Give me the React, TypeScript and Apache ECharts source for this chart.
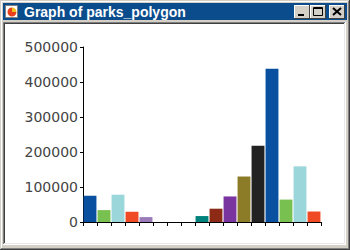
import React, { useEffect, useRef } from "react";
import * as echarts from "echarts";

const categories = ["1", "2", "3", "4", "5", "6", "7", "8", "9", "10", "11", "12", "13", "14", "15", "16", "17"];
const values = [75000, 34000, 78000, 29000, 14000, 0, 0, 0, 17000, 38000, 73000, 130000, 218000, 438000, 64000, 159000, 30000];
const barColors = ["#0a50a0", "#78c050", "#9ad6da", "#f04a24", "#9a7ab8", "#888888", "#888888", "#888888", "#00827c", "#8c2a16", "#7a34a0", "#8c7c28", "#222222", "#0a50a0", "#78c050", "#9ad6da", "#f04a24"];
const yTicks = { min: 0, max: 500000, interval: 100000 };
const title = "Graph of parks_polygon";

const GRAY = "#d4d0c8";

export default function App() {
  const ref = useRef<HTMLDivElement>(null);
  useEffect(() => {
    const chart = echarts.init(ref.current!, undefined, { renderer: "svg" });
    const btn = (x: number) => [
      { type: "rect", shape: { x, y: 5, width: 16, height: 14 }, style: { fill: GRAY }, z: 10 },
      { type: "line", shape: { x1: x, y1: 5.5, x2: x + 16, y2: 5.5 }, style: { stroke: "#ffffff", lineWidth: 1 }, z: 11 },
      { type: "line", shape: { x1: x + 0.5, y1: 5, x2: x + 0.5, y2: 19 }, style: { stroke: "#ffffff", lineWidth: 1 }, z: 11 },
      { type: "line", shape: { x1: x, y1: 18.5, x2: x + 16, y2: 18.5 }, style: { stroke: "#404040", lineWidth: 1 }, z: 11 },
      { type: "line", shape: { x1: x + 15.5, y1: 5, x2: x + 15.5, y2: 19 }, style: { stroke: "#404040", lineWidth: 1 }, z: 11 },
    ];
    const option: any = {
      animation: false,
      backgroundColor: "#ffffff",
      grid: { left: 83, right: 29, top: 47, bottom: 28, containLabel: false },
      xAxis: {
        type: "category",
        data: categories,
        boundaryGap: true,
        axisLine: { show: true, lineStyle: { color: "#000000", width: 1 } },
        axisTick: { show: true, length: 4, interval: 0, lineStyle: { color: "#000000" } },
        axisLabel: { show: false },
        splitLine: { show: false },
      },
      yAxis: {
        type: "value",
        min: yTicks.min,
        max: yTicks.max,
        interval: yTicks.interval,
        axisLine: { show: true, lineStyle: { color: "#000000", width: 1 } },
        axisTick: { show: true, length: 3, lineStyle: { color: "#000000" } },
        axisLabel: { color: "#444444", fontSize: 14, fontFamily: "DejaVu Sans", margin: 5, formatter: (v: number) => String(v) },
        splitLine: { show: false },
      },
      series: [
        {
          type: "bar",
          data: values.map((v, i) => ({ value: v, itemStyle: { color: barColors[i] } })),
          barCategoryGap: "8%",
        },
      ],
      graphic: [
        { type: "rect", shape: { x: 0, y: 0, width: 350, height: 24 }, style: { fill: GRAY }, z: 5 },
        { type: "rect", shape: { x: 0, y: 24, width: 5, height: 226 }, style: { fill: GRAY }, z: 5 },
        { type: "rect", shape: { x: 344, y: 24, width: 6, height: 226 }, style: { fill: GRAY }, z: 5 },
        { type: "rect", shape: { x: 0, y: 243, width: 350, height: 7 }, style: { fill: GRAY }, z: 5 },
        { type: "line", shape: { x1: 1.5, y1: 1, x2: 1.5, y2: 248 }, style: { stroke: "#ffffff", lineWidth: 1 }, z: 6 },
        { type: "line", shape: { x1: 1, y1: 1.5, x2: 348, y2: 1.5 }, style: { stroke: "#ffffff", lineWidth: 1 }, z: 6 },
        { type: "line", shape: { x1: 348.5, y1: 1, x2: 348.5, y2: 249 }, style: { stroke: "#808080", lineWidth: 1 }, z: 6 },
        { type: "line", shape: { x1: 349.5, y1: 0, x2: 349.5, y2: 250 }, style: { stroke: "#404040", lineWidth: 1 }, z: 6 },
        { type: "line", shape: { x1: 1, y1: 248.5, x2: 349, y2: 248.5 }, style: { stroke: "#808080", lineWidth: 1 }, z: 6 },
        { type: "line", shape: { x1: 0, y1: 249.5, x2: 350, y2: 249.5 }, style: { stroke: "#404040", lineWidth: 1 }, z: 6 },
        { type: "line", shape: { x1: 3, y1: 22.5, x2: 345, y2: 22.5 }, style: { stroke: "#808080", lineWidth: 1 }, z: 6 },
        { type: "line", shape: { x1: 3.5, y1: 22, x2: 3.5, y2: 245 }, style: { stroke: "#808080", lineWidth: 1 }, z: 6 },
        { type: "line", shape: { x1: 4, y1: 23.5, x2: 344, y2: 23.5 }, style: { stroke: "#404040", lineWidth: 1 }, z: 6 },
        { type: "line", shape: { x1: 4.5, y1: 23, x2: 4.5, y2: 244 }, style: { stroke: "#404040", lineWidth: 1 }, z: 6 },
        { type: "line", shape: { x1: 4, y1: 243.5, x2: 345, y2: 243.5 }, style: { stroke: "#e8e8e8", lineWidth: 1 }, z: 6 },
        { type: "line", shape: { x1: 344.5, y1: 23, x2: 344.5, y2: 244 }, style: { stroke: "#e8e8e8", lineWidth: 1 }, z: 6 },
        { type: "line", shape: { x1: 3, y1: 244.5, x2: 346, y2: 244.5 }, style: { stroke: "#ffffff", lineWidth: 1 }, z: 6 },
        { type: "line", shape: { x1: 345.5, y1: 22, x2: 345.5, y2: 245 }, style: { stroke: "#ffffff", lineWidth: 1 }, z: 6 },
        { type: "rect", shape: { x: 3, y: 3, width: 344, height: 17 }, style: { fill: "#0b4c8c" }, z: 7 },
        { type: "rect", shape: { x: 5.5, y: 5.5, width: 12, height: 12 }, style: { fill: "#ffffff", stroke: "#808080", lineWidth: 1 }, z: 8 },
        { type: "sector", shape: { cx: 12, cy: 12, r: 4.5, startAngle: 0, endAngle: Math.PI * 1.5 }, style: { fill: "#e8401c" }, z: 9 },
        { type: "sector", shape: { cx: 12, cy: 12, r: 4.5, startAngle: Math.PI * 1.5, endAngle: Math.PI * 2 }, style: { fill: "#f0c020" }, z: 9 },
        {
          type: "text",
          x: 24,
          y: 11.5,
          style: { text: title, fill: "#ffffff", font: "bold 14px 'Liberation Sans', Arial, sans-serif", textVerticalAlign: "middle" },
          z: 9,
        },
        ...btn(294),
        ...btn(310),
        ...btn(329),
        { type: "rect", shape: { x: 298, y: 14, width: 6, height: 2 }, style: { fill: "#000000" }, z: 12 },
        { type: "rect", shape: { x: 313.5, y: 7.5, width: 9, height: 8 }, style: { fill: "none", stroke: "#000000", lineWidth: 1 }, z: 12 },
        { type: "line", shape: { x1: 313, y1: 8.5, x2: 323, y2: 8.5 }, style: { stroke: "#000000", lineWidth: 1 }, z: 12 },
        { type: "line", shape: { x1: 333, y1: 8, x2: 341, y2: 15 }, style: { stroke: "#000000", lineWidth: 2 }, z: 12 },
        { type: "line", shape: { x1: 341, y1: 8, x2: 333, y2: 15 }, style: { stroke: "#000000", lineWidth: 2 }, z: 12 },
      ],
    };
    chart.setOption(option);
    return () => chart.dispose();
  }, []);
  return <div ref={ref} style={{ position: "fixed", left: 0, top: 0, width: 350, height: 250 }} />;
}
